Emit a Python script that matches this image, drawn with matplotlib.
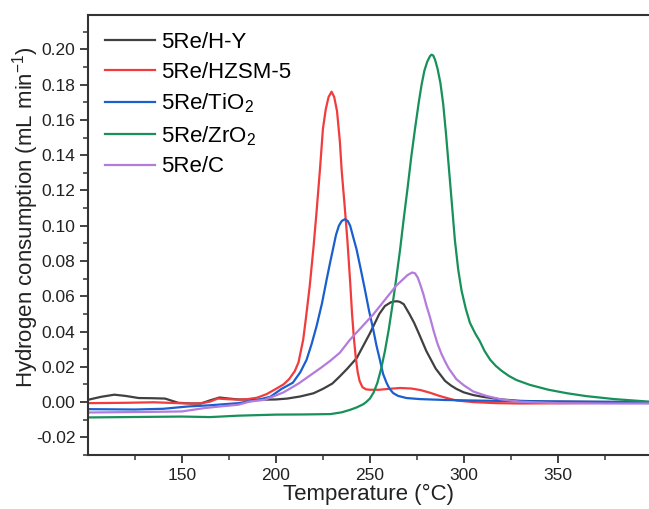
import matplotlib
matplotlib.use("Agg")
import matplotlib.pyplot as plt
from matplotlib.ticker import MultipleLocator, FixedLocator, FormatStrFormatter

plt.rcParams['font.family'] = ['Liberation Sans', 'DejaVu Sans']
plt.rcParams['mathtext.default'] = 'regular'

# Данні TPR (температура, °C -> споживання H2, mL/min)
t_hy = [100, 107, 114, 120, 127, 134, 141, 148, 155, 160, 165, 170, 175, 180, 190,
        200, 206, 213, 220, 225, 230, 234, 238, 243, 246, 250, 252.5, 255, 258, 261,
        262.5, 264.5, 266, 268, 271, 273.5, 276, 278, 280, 282.5, 285, 287.5, 290,
        293, 296, 300, 305, 310, 320, 330, 345, 370, 398]
v_hy = [0.0013, 0.003, 0.0042, 0.0035, 0.0023, 0.0022, 0.002, -0.0004, -0.0008, -0.0008,
        0.001, 0.0026, 0.002, 0.0015, 0.0013, 0.0015, 0.002, 0.0032, 0.005, 0.0075,
        0.0105, 0.0146, 0.019, 0.025, 0.031, 0.039, 0.0445, 0.0500, 0.0545, 0.0565,
        0.0570, 0.0572, 0.0568, 0.0555, 0.050, 0.045, 0.039, 0.034, 0.029, 0.024,
        0.019, 0.0155, 0.012, 0.0095, 0.0075, 0.0055, 0.0040, 0.003, 0.0015,
        0.0007, 0.0003, 0.0001, 0.0]

t_hzsm = [100, 120, 135, 148, 155, 160, 165, 169, 175, 180, 185, 190, 195, 200, 204,
          207, 210, 212, 214.5, 216, 218, 220, 221.6, 223.5, 225, 226.5, 228, 229.6,
          231, 232.5, 234, 235, 236.5, 238, 239.5, 240.5, 241.5, 242.5, 243.5, 244.5,
          246, 248, 250, 255, 260, 266, 272, 277, 282, 287, 292, 296, 305,
          317, 330, 350, 375, 398]
v_hzsm = [-0.0006, -0.0004, -0.0001, -0.0006, -0.0008, -0.0007, 0.0003, 0.0020, 0.0016,
          0.0014, 0.0017, 0.0025, 0.0045, 0.0075, 0.0100, 0.0130, 0.0175, 0.0225,
          0.0354, 0.048, 0.066, 0.088, 0.1077, 0.133, 0.155, 0.166, 0.173, 0.176,
          0.173, 0.165, 0.148, 0.131, 0.112, 0.092, 0.068, 0.050, 0.036, 0.025, 0.017,
          0.012, 0.0085, 0.0072, 0.007, 0.007, 0.0075, 0.008, 0.0077, 0.0068, 0.0053,
          0.0035, 0.002, 0.0009, 0.0, -0.0006, -0.0008, -0.0007, -0.0004, -0.0002]

t_tio2 = [100, 125, 140, 153, 165, 180, 190, 197, 203, 209, 213, 216.3, 219, 221.6,
          224.5, 227, 228.8, 230.5, 232, 233.5, 235, 236.7, 238.2, 239.5, 241, 242.9,
          245, 247.3, 249.5, 251.8, 253.5, 255.3, 257, 258.9, 260.5, 262.4, 265,
          269.5, 276.6, 290, 310, 340, 370, 398]
v_tio2 = [-0.004, -0.0042, -0.0038, -0.0025, -0.0018, -0.0006, 0.0012, 0.003, 0.0075,
          0.011, 0.017, 0.024, 0.033, 0.043, 0.056, 0.0696, 0.079, 0.0875, 0.095,
          0.100, 0.1027, 0.1037, 0.1027, 0.100, 0.094, 0.0866, 0.076, 0.064, 0.052,
          0.041, 0.032, 0.024, 0.016, 0.0108, 0.0075, 0.0051, 0.0035, 0.0023, 0.0017,
          0.0012, 0.0008, 0.0004, 0.0002, 0.0]

t_zro2 = [100, 130, 150, 165, 180, 200, 215, 229, 235, 239.4, 243, 246.5, 248, 250, 252,
          254, 256, 258, 260, 262, 264, 266, 268, 270, 272, 274, 276, 277.5, 279, 280.5,
          282, 282.8, 283.7, 284.7, 286, 287.5, 289, 290.5, 292, 293.5, 295.2, 297,
          298.8, 301, 303.2, 306, 308.5, 311, 314, 317, 320, 324, 328, 335, 345, 355,
          365, 380, 398]
v_zro2 = [-0.0087, -0.0084, -0.0082, -0.0085, -0.0077, -0.0071, -0.007, -0.0068, -0.0058,
          -0.0044, -0.003, -0.0012, 0.0, 0.002, 0.0055, 0.011, 0.019, 0.029, 0.041, 0.055,
          0.070, 0.086, 0.104, 0.121, 0.139, 0.155, 0.170, 0.180, 0.188, 0.193, 0.1962,
          0.197, 0.1965, 0.194, 0.189, 0.181, 0.169, 0.152, 0.133, 0.114, 0.092, 0.075,
          0.063, 0.053, 0.045, 0.039, 0.0345, 0.029, 0.024, 0.0205, 0.0178, 0.0148,
          0.0125, 0.0098, 0.007, 0.0050, 0.0034, 0.0017, 0.0003]

t_c = [100, 130, 150, 162, 170, 180, 186, 194, 204, 212, 218, 224, 229, 234, 239.4, 246,
       252, 258, 264, 268, 270, 272.5, 274, 275.5, 277, 278.5, 280, 282, 284, 286, 288,
       290, 292, 296, 300, 305, 312, 320, 330, 350, 375, 398]
v_c = [-0.0059, -0.0056, -0.0053, -0.0034, -0.0025, -0.0015, 0.0003, 0.0013, 0.0055,
       0.0105, 0.015, 0.0195, 0.0235, 0.028, 0.0354, 0.043, 0.050, 0.058, 0.066, 0.070,
       0.072, 0.0735, 0.073, 0.0705, 0.066, 0.061, 0.055, 0.048, 0.040, 0.033, 0.0275,
       0.023, 0.019, 0.013, 0.0095, 0.006, 0.0035, 0.0015, 0.0002, -0.0006, -0.0008,
       -0.0008]

series = [
    (t_hy, v_hy, '5Re/H-Y', '#404040'),
    (t_hzsm, v_hzsm, '5Re/HZSM-5', '#f03c3c'),
    (t_tio2, v_tio2, '5Re/TiO$_2$', '#1a5fcf'),
    (t_zro2, v_zro2, '5Re/ZrO$_2$', '#17905a'),
    (t_c, v_c, '5Re/C', '#b27bdc'),
]

fig = plt.figure(figsize=(6.49, 5.09), dpi=100)
ax = fig.add_axes([88 / 649, 1 - 455 / 509, 1 - 88 / 649, (455 - 15) / 509])

for t, v, name, col in series:
    ax.plot(t, v, color=col, linewidth=1.6, label=name)

ax.set_xlim(100, 398.5)
ax.set_ylim(-0.03, 0.2195)
ax.xaxis.set_major_locator(FixedLocator([150, 200, 250, 300, 350]))
ax.xaxis.set_minor_locator(FixedLocator([125, 175, 225, 275, 325, 375]))
ax.yaxis.set_major_locator(MultipleLocator(0.02))
ax.yaxis.set_minor_locator(MultipleLocator(0.01))
ax.yaxis.set_major_formatter(FormatStrFormatter('%.2f'))

for s in ['left', 'bottom', 'top']:
    ax.spines[s].set_linewidth(1.5)
    ax.spines[s].set_color('#333333')
ax.spines['right'].set_visible(False)
ax.tick_params(which='major', direction='out', length=6, width=1.3, labelsize=12.5,
               colors='#333333', labelcolor='#222222', pad=3)
ax.tick_params(which='minor', direction='out', length=3.5, width=1.1, colors='#333333')

ax.set_xlabel('Temperature (°C)', fontsize=16, color='#222222', labelpad=1)
ax.set_ylabel('Hydrogen consumption (mL min$^{-1}$)', fontsize=16, color='#222222')
ax.yaxis.set_label_coords(-0.084, 0.54)

ax.legend(loc='upper left', frameon=False, fontsize=16, handlelength=2.25,
          handletextpad=0.28, borderaxespad=0.35, labelspacing=0.4)

fig.savefig('out.png', dpi=100)
